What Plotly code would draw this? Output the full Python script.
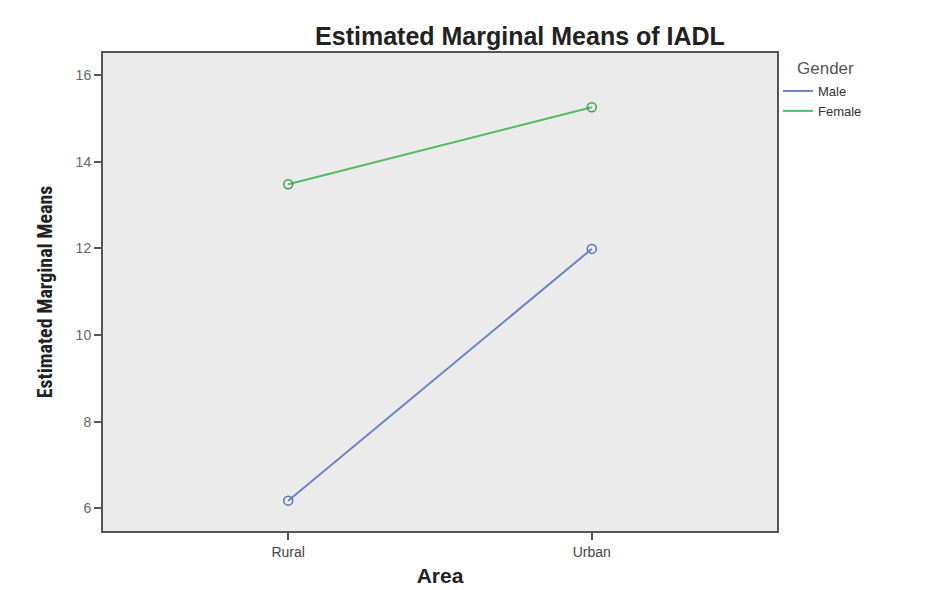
import plotly.graph_objects as go

areas = ["Rural", "Urban"]
male = [6.18, 11.99]
female = [13.48, 15.26]
y_ticks = [6, 8, 10, 12, 14, 16]

male_color = "#6B82C9"
female_color = "#52BA62"
font_main = "Liberation Sans, Arial, sans-serif"

fig = go.Figure()
fig.add_trace(go.Scatter(
    x=[0, 1], y=male, name="Male", mode="lines+markers", showlegend=False,
    line=dict(color=male_color, width=2),
    marker=dict(symbol="circle-open", size=9, color="#5A70B8", line=dict(width=1.5)),
))
fig.add_trace(go.Scatter(
    x=[0, 1], y=female, name="Female", mode="lines+markers", showlegend=False,
    line=dict(color=female_color, width=2),
    marker=dict(symbol="circle-open", size=9, color="#3FA050", line=dict(width=1.5)),
))
# legend entries (line only, as in the reference)
fig.add_trace(go.Scatter(x=[None], y=[None], name="Male", mode="lines",
                         line=dict(color=male_color, width=2)))
fig.add_trace(go.Scatter(x=[None], y=[None], name="Female", mode="lines",
                         line=dict(color=female_color, width=2)))

fig.update_layout(
    width=926, height=590,
    paper_bgcolor="white", plot_bgcolor="#EBEBEB",
    margin=dict(l=95, r=157, t=45, b=67, autoexpand=False),
    title=dict(text="<b>Estimated Marginal Means of IADL</b>", x=512/926, xanchor="center",
               y=1-28/590, yanchor="middle",
               font=dict(family=font_main, size=25, color="#222")),
    xaxis=dict(range=[-0.61, 1.61], tickvals=[0, 1], ticktext=areas,
               showgrid=False, zeroline=False,
               showline=True, linecolor="#555", linewidth=2, mirror=True,
               ticks="outside", ticklen=7, tickcolor="#555", tickwidth=1.5,
               tickfont=dict(family=font_main, size=14, color="#444"),
               title=dict(text="<b>Area</b>", standoff=10,
                          font=dict(family=font_main, size=21, color="#222"))),
    yaxis=dict(range=[5.48, 16.51], tickvals=y_ticks,
               showgrid=False, zeroline=False,
               showline=True, linecolor="#555", linewidth=2, mirror=True,
               ticks="outside", ticklen=7, tickcolor="#555", tickwidth=1.5,
               tickfont=dict(family=font_main, size=14, color="#666"),
               title=dict(text="<b>Estimated Marginal Means</b>", standoff=18,
                          font=dict(family="Liberation Sans Narrow, Arial Narrow, Roboto Condensed, sans-serif", size=20, color="#222"))),
    legend=dict(x=770/926, xanchor="left", y=1-68/590, yanchor="top", xref="container", yref="container",
                font=dict(family=font_main, size=13, color="#333"),
                itemwidth=30, tracegroupgap=0, bgcolor="rgba(0,0,0,0)"),
    showlegend=True,
    annotations=[dict(text="Gender", xref="paper", yref="paper", x=1.027, y=0.967,
                      xanchor="left", yanchor="middle",
                      showarrow=False, font=dict(family=font_main, size=17, color="#555"))],
)

fig.write_html("out.html")
